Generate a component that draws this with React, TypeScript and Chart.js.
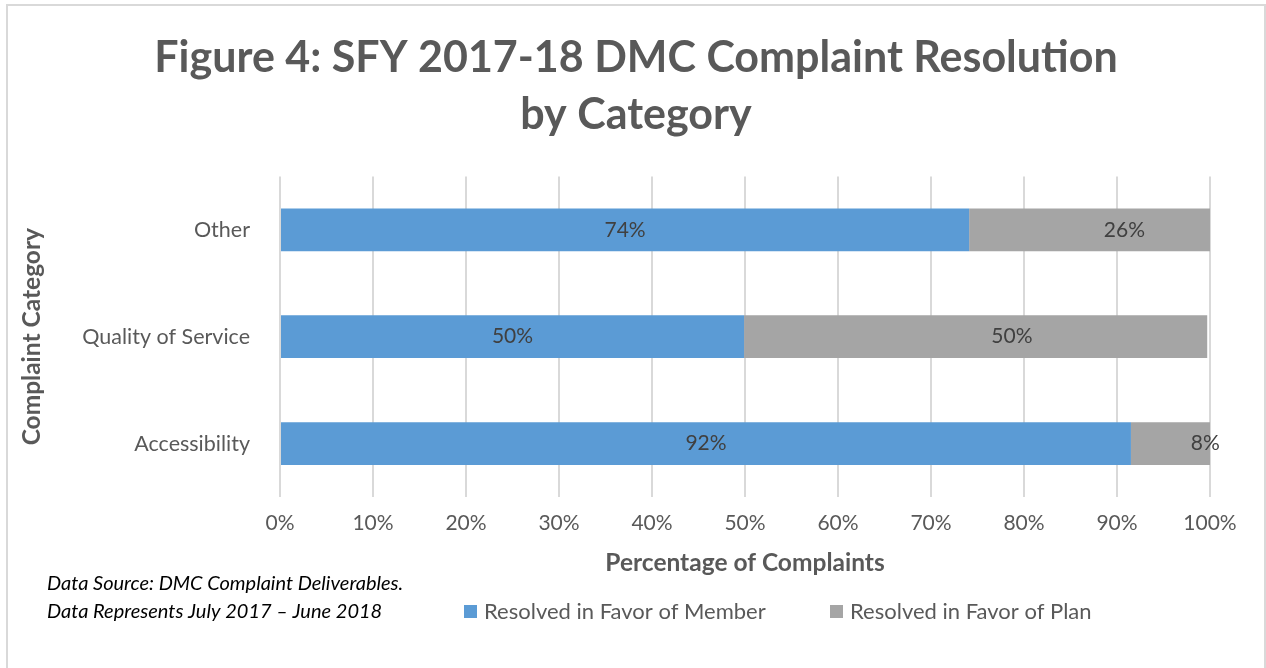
import React, { useEffect, useRef } from "react";
import { Chart, registerables } from "chart.js";

Chart.register(...registerables);

const categories = ["Other", "Quality of Service", "Accessibility"];
const memberValues = [74.1, 49.9, 91.5];
const planValues = [25.9, 49.8, 8.5];
const memberLabels = ["74%", "50%", "92%"];
const planLabels = ["26%", "50%", "8%"];
const seriesNames = ["Resolved in Favor of Member", "Resolved in Favor of Plan"];
const seriesColors = ["#5B9BD5", "#A5A5A5"];
const titleLines = ["Figure 4: SFY 2017-18 DMC Complaint Resolution", "by Category"];
const xAxisTitle = "Percentage of Complaints";
const yAxisTitle = "Complaint Category";
const footnoteLines = [
  "Data Source: DMC Complaint Deliverables.",
  "Data Represents July 2017 \u2013 June 2018",
];

const FONT = "Lato";

const barLabelPlugin = {
  id: "barLabels",
  afterDatasetsDraw(chart: any) {
    const ctx = chart.ctx;
    const xs = chart.scales.x;
    const labelSets = [memberLabels, planLabels];
    ctx.save();
    ctx.font = `21px ${FONT}`;
    ctx.fillStyle = "#404040";
    ctx.textAlign = "center";
    ctx.textBaseline = "middle";
    chart.data.datasets.forEach((_ds: any, di: number) => {
      const meta = chart.getDatasetMeta(di);
      meta.data.forEach((bar: any, i: number) => {
        const p = bar.getProps(["x", "y", "base"], true);
        let cx = (p.x + p.base) / 2;
        if (di === 1) cx = (p.base + xs.getPixelForValue(107.5)) / 2;
        ctx.fillText(labelSets[di][i], cx, p.y);
      });
    });
    ctx.restore();
  },
};

const legendFootnotePlugin = {
  id: "legendFootnote",
  afterDraw(chart: any) {
    const ctx = chart.ctx;
    ctx.save();
    // footnote
    ctx.font = `italic 20px ${FONT}`;
    ctx.fillStyle = "#000000";
    ctx.textAlign = "left";
    ctx.textBaseline = "middle";
    ctx.fillText(footnoteLines[0], 47, 584);
    ctx.fillText(footnoteLines[1], 47, 612);
    // legend
    const starts = [464, 830];
    ctx.font = `22px ${FONT}`;
    chart.data.datasets.forEach((ds: any, i: number) => {
      const x0 = starts[i];
      ctx.fillStyle = ds.backgroundColor;
      ctx.fillRect(x0, 605, 13, 13);
      ctx.fillStyle = "#595959";
      ctx.fillText(ds.label, x0 + 20, 612);
    });
    ctx.restore();
  },
};

export default function App() {
  const ref = useRef<HTMLCanvasElement | null>(null);

  useEffect(() => {
    if (!ref.current) return;
    const chart = new Chart(ref.current, {
      type: "bar",
      data: {
        labels: categories,
        datasets: [
          {
            label: seriesNames[0],
            data: memberValues,
            backgroundColor: seriesColors[0],
            barPercentage: 0.4,
            categoryPercentage: 1.0,
          },
          {
            label: seriesNames[1],
            data: planValues,
            backgroundColor: seriesColors[1],
            barPercentage: 0.4,
            categoryPercentage: 1.0,
          },
        ],
      },
      options: {
        indexAxis: "y",
        responsive: false,
        animation: false,
        layout: { padding: { left: 6, right: 0, top: 0, bottom: 90.3 } },
        plugins: {
          legend: { display: false },
          tooltip: { enabled: false },
          title: {
            display: true,
            text: titleLines,
            color: "#595959",
            font: { family: FONT, size: 43, weight: "bold", lineHeight: 1.33 },
            padding: { top: 29.5, bottom: 32.5 },
          },
        },
        scales: {
          x: {
            type: "linear",
            stacked: true,
            min: 0,
            max: 100,
            ticks: {
              stepSize: 10,
              callback: (v: any) => `${v}%`,
              color: "#595959",
              font: { family: FONT, size: 21 },
              padding: 14,
            },
            grid: { color: "#D9D9D9", lineWidth: 2, drawTicks: false },
            border: { display: false },
            title: {
              display: true,
              text: xAxisTitle,
              color: "#595959",
              font: { family: FONT, size: 24.5, weight: "bold", lineHeight: 1.2 },
              padding: { top: 0, bottom: 0 },
            },
            afterFit(scale: any) {
              scale.height = 80.7;
            },
          },
          y: {
            type: "category",
            stacked: true,
            ticks: {
              color: "#595959",
              font: { family: FONT, size: 21.5 },
              padding: 30,
            },
            grid: { display: false, drawTicks: false },
            border: { display: false },
            title: {
              display: true,
              text: yAxisTitle,
              color: "#595959",
              font: { family: FONT, size: 24.5, weight: "bold", lineHeight: 1.2 },
              padding: { top: 11.3, bottom: 0 },
            },
            afterFit(scale: any) {
              scale.width = 274;
            },
          },
          yRight: {
            type: "linear",
            axis: "y",
            position: "right",
            display: true,
            grid: { display: false, drawTicks: false },
            ticks: { display: false },
            border: { display: false },
            afterFit(scale: any) {
              scale.width = 56;
            },
          },
        },
      } as any,
      plugins: [barLabelPlugin, legendFootnotePlugin],
    });
    return () => chart.destroy();
  }, []);

  return (
    <div
      style={{
        position: "fixed",
        left: 0,
        top: 0,
        width: 1266,
        height: 668,
        background: "#ffffff",
        overflow: "hidden",
      }}
    >
      <div
        style={{
          position: "absolute",
          left: 6,
          top: 4,
          width: 1256,
          height: 700,
          border: "2px solid #D9D9D9",
        }}
      />
      <canvas
        ref={ref}
        width={1266}
        height={668}
        style={{ position: "absolute", left: 0, top: 0, width: 1266, height: 668 }}
      />
    </div>
  );
}
